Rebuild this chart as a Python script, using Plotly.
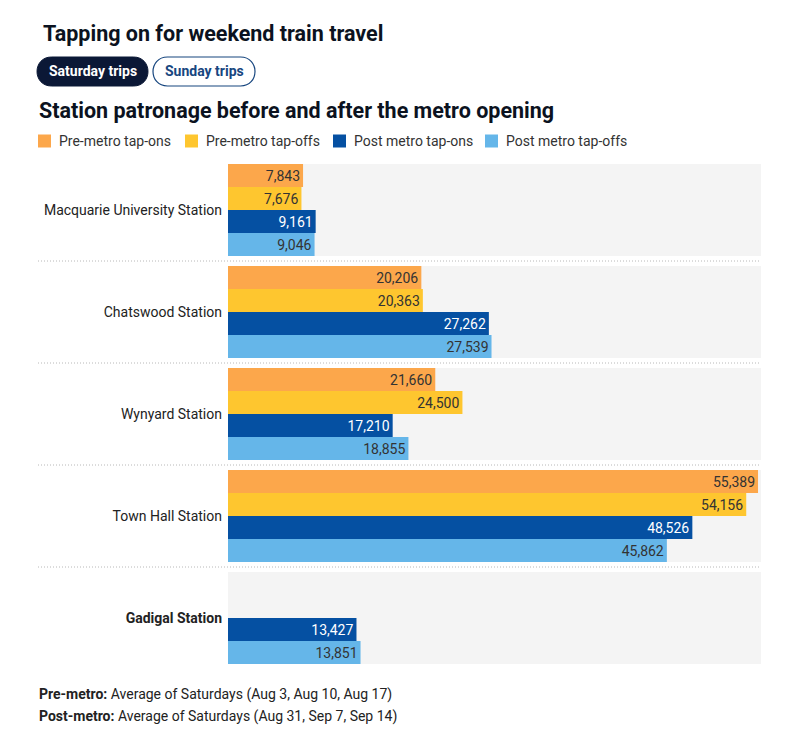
import plotly.graph_objects as go

stations = ["Macquarie University Station", "Chatswood Station", "Wynyard Station",
            "Town Hall Station", "Gadigal Station"]
tick_labels = ["Macquarie University Station", "Chatswood Station", "Wynyard Station",
               "Town Hall Station", "<b>Gadigal Station</b>"]
series_names = ["Pre-metro tap-ons", "Pre-metro tap-offs", "Post metro tap-ons", "Post metro tap-offs"]
pre_on = [7843, 20206, 21660, 55389, None]
pre_off = [7676, 20363, 24500, 54156, None]
post_on = [9161, 27262, 17210, 48526, 13427]
post_off = [9046, 27539, 18855, 45862, 13851]

series = [
    (series_names[0], pre_on, "#FCA74B", "#333333"),
    (series_names[1], pre_off, "#FEC62F", "#333333"),
    (series_names[2], post_on, "#0550A2", "#FFFFFF"),
    (series_names[3], post_off, "#65B6E9", "#333333"),
]

OFF = 8  # page body margin
W, H = 798 - OFF, 735 - OFF
L, R, T, B = 228 - OFF, 37, 159 - OFF, 66
PW, PH = W - L - R, H - T - B


def px(x):  # reference page x -> paper
    return (x - OFF - L) / PW


def py(y):  # reference page y -> paper
    return 1 - (y - OFF - T) / PH


FONT = "Roboto"
fig = go.Figure()
for name, vals, color, tcol in series:
    fig.add_trace(go.Bar(
        y=stations, x=vals, name=name, orientation="h",
        marker=dict(color=color, line=dict(width=0)),
        text=[f"{v:,}" if v is not None else "" for v in vals],
        textposition="inside", insidetextanchor="end",
        textfont=dict(family=FONT, size=14, color=tcol),
        constraintext="none", hoverinfo="skip", showlegend=False,
    ))

shapes = []
for i in range(len(stations)):
    shapes.append(dict(type="rect", xref="paper", yref="y", x0=0, x1=1,
                       y0=i - 0.45, y1=i + 0.45, fillcolor="#F4F4F4",
                       line=dict(width=0), layer="below"))
for i in range(len(stations) - 1):
    shapes.append(dict(type="line", xref="paper", yref="y", x0=px(38), x1=1,
                       y0=i + 0.5, y1=i + 0.5,
                       line=dict(color="#B8B8B8", width=1, dash="1px,2px")))


def pill(x0, x1, y0, y1, fill, line):
    r = (y1 - y0) / 2
    k = 4 / 3 * r
    path = (f"M{px(x0 + r)},{py(y0)} L{px(x1 - r)},{py(y0)} "
            f"C{px(x1 - r + k)},{py(y0)} {px(x1 - r + k)},{py(y1)} {px(x1 - r)},{py(y1)} "
            f"L{px(x0 + r)},{py(y1)} "
            f"C{px(x0 + r - k)},{py(y1)} {px(x0 + r - k)},{py(y0)} {px(x0 + r)},{py(y0)} Z")
    return dict(type="path", xref="paper", yref="paper", path=path,
                fillcolor=fill, line=line)


shapes.append(pill(37, 148, 57, 86, "#0B1836", dict(color="#0B1836", width=1)))
shapes.append(pill(153, 255, 57, 86, "#FFFFFF", dict(color="#17467F", width=1.2)))

annotations = [
    dict(text="<b>Tapping on for weekend train travel</b>", x=px(41), y=py(34),
         xanchor="left", yanchor="middle", font=dict(family=FONT, size=21.5, color="#0B1220")),
    dict(text="<b>Saturday trips</b>", x=px(92.5), y=py(71.5), xanchor="center", yanchor="middle",
         font=dict(family=FONT, size=14, color="#FFFFFF")),
    dict(text="<b>Sunday trips</b>", x=px(204), y=py(71.5), xanchor="center", yanchor="middle",
         font=dict(family=FONT, size=14, color="#17467F")),
    dict(text="<b>Station patronage before and after the metro opening</b>", x=px(37), y=py(111),
         xanchor="left", yanchor="middle", font=dict(family=FONT, size=21.5, color="#0B1220")),
    dict(text="<b>Pre-metro:</b> Average of Saturdays (Aug 3, Aug 10, Aug 17)", x=px(37), y=py(694),
         xanchor="left", yanchor="middle", font=dict(family=FONT, size=14, color="#222222")),
    dict(text="<b>Post-metro:</b> Average of Saturdays (Aug 31, Sep 7, Sep 14)", x=px(37), y=py(716),
         xanchor="left", yanchor="middle", font=dict(family=FONT, size=14, color="#222222")),
]

# legend: swatches + labels
legend_x = [38, 185, 333, 485]
for (name, vals, color, tcol), lx in zip(series, legend_x):
    shapes.append(dict(type="rect", xref="paper", yref="paper", x0=px(lx), x1=px(lx + 13),
                       y0=py(134.5), y1=py(147.5), fillcolor=color, line=dict(width=0)))
    annotations.append(dict(text=name, x=px(lx + 19), y=py(141), xanchor="left", yanchor="middle",
                            font=dict(family=FONT, size=14, color="#333333")))

for a in annotations:
    a.update(xref="paper", yref="paper", showarrow=False, align="left")

fig.update_layout(
    width=W, height=H, margin=dict(l=L, r=R, t=T, b=B, autoexpand=False),
    paper_bgcolor="white", plot_bgcolor="white",
    barmode="group", bargap=10 / 102, bargroupgap=0,
    font=dict(family=FONT, size=14, color="#222222"),
    showlegend=False,
    xaxis=dict(range=[0, 55700], visible=False, fixedrange=True),
    yaxis=dict(autorange="reversed", tickmode="array", tickvals=stations, ticktext=tick_labels,
               showgrid=False, zeroline=False, showline=False, ticks="",
               ticklabelstandoff=5, tickfont=dict(family=FONT, size=14, color="#222222"),
               fixedrange=True),
    shapes=shapes, annotations=annotations, hovermode=False,
)

fig.write_html("out.html")
